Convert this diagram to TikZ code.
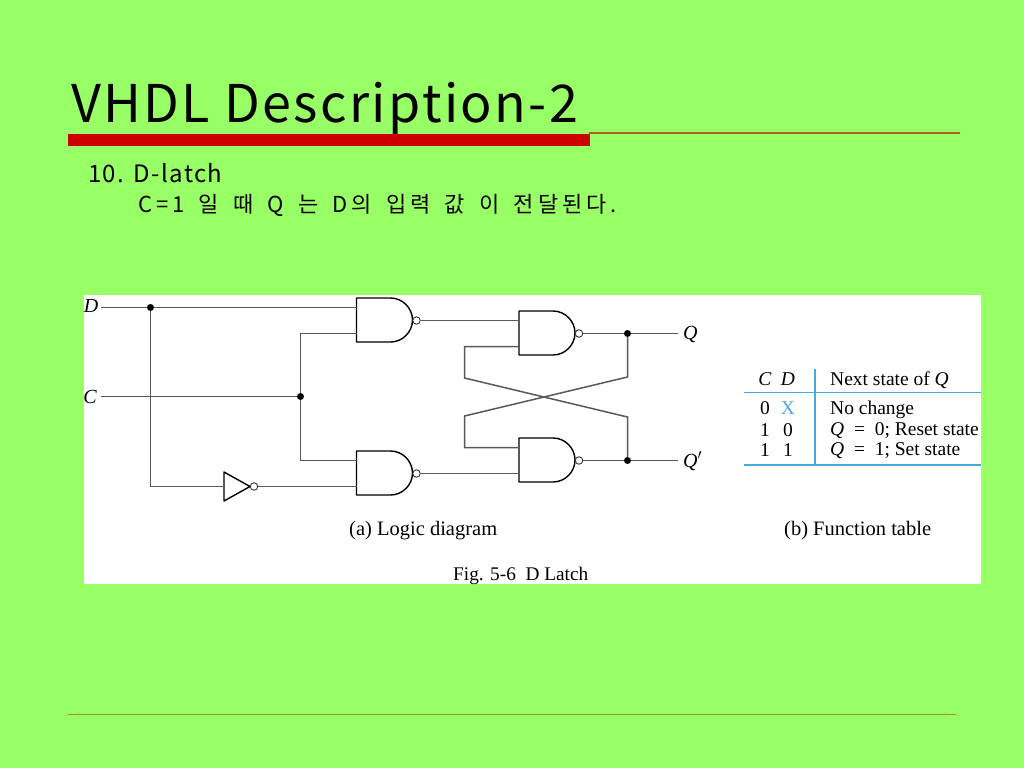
\documentclass[tikz,border=0pt]{standalone}
\usepackage{fontspec}
\setmainfont{Liberation Serif}
\newfontfamily\gulim{Noto Sans CJK KR}
\newfontfamily\gulimtitle[LetterSpace=4.6]{Noto Sans CJK KR}
\newfontfamily\gulimhead[LetterSpace=6]{Noto Sans CJK KR}
\newfontfamily\gulimsub[LetterSpace=18,WordSpace=1.6]{Noto Sans CJK KR}
\usetikzlibrary{positioning,calc}
\definecolor{slidegreen}{HTML}{99FF66}
\definecolor{barred}{HTML}{CC0000}
\definecolor{rulered}{HTML}{B06020}
\definecolor{ruleolive}{HTML}{A09030}
\definecolor{tableblue}{HTML}{4AA8E0}
\tikzstyle{wire}=[draw=black!65, line width=1.5pt]
\tikzstyle{gateline}=[draw=black, line width=1.4pt, fill=white, line join=round]
\tikzstyle{dot}=[circle, fill=black, minimum size=7pt, inner sep=0pt]
\tikzstyle{bubble}=[circle, draw=black!80, fill=white, line width=0.9pt, minimum size=7.5pt, inner sep=0pt]
\tikzstyle{slidetext}=[anchor=base west, inner sep=0pt]
\tikzstyle{label}=[anchor=base west, inner sep=0pt, font=\fontsize{19.5}{21}\selectfont]
\tikzstyle{caption}=[anchor=base west, inner sep=0pt, font=\fontsize{20.5}{22}\selectfont]
\tikzstyle{pinlabel}=[inner sep=0pt, font=\fontsize{20}{22}\selectfont\itshape]
\newcommand{\eqgap}{\hspace{0.5em}=\hspace{0.5em}}
\tikzset{
	nandgate/.pic={
		\path[gateline] (0,0)--(34,0) .. controls (46,0) and (56,10) .. (56,22)
			.. controls (56,34) and (46,44) .. (34,44)--(0,44)--cycle;
		\coordinate (-a) at (0,9.5);
		\coordinate (-b) at (0,35.5);
		\node[bubble] (-o) at (60,22.5) {};
	},
	notgate/.pic={
		\path[gateline] (0,0)--(26,14.5)--(0,29)--cycle;
		\coordinate (-a) at (0,14.5);
		\node[bubble] (-o) at (30,14.5) {};
	}
}
\begin{document}
\begin{tikzpicture}[x=1pt,y=-1pt]
		\useasboundingbox (0,0) rectangle (1024,768);
		\fill[slidegreen] (0,0) rectangle (1024,768);
		% title and rules
		\node[slidetext, font=\gulimtitle\fontsize{52}{56}\selectfont](title)at(71,122){VHDL Description-2};
		\fill[barred] (68,133.5) rectangle (589.5,146);
		\draw[rulered, line width=1.5pt] (589,133)--(960,133);
		\draw[ruleolive, line width=1pt] (68,714.5)--(956,714.5);
		\node[slidetext, font=\gulimhead\fontsize{24}{26}\selectfont](head)at(88,182){10. D-latch};
		\node[slidetext, font=\gulimsub\fontsize{22}{26}\selectfont](sub)at(138,212){C=1 일 때 Q 는 D의 입력 값 이 전달된다.};
		% figure
		\fill[white] (84,295) rectangle (981,584);
		\pic (G1) at (356.5,298) {nandgate};
		\pic (G2) at (356.5,451) {nandgate};
		\pic (G3) at (519,311) {nandgate};
		\pic (G4) at (519,438) {nandgate};
		\pic (N) at (224,472) {notgate};
		\node[pinlabel](D)at(91,306){D};
		\node[pinlabel](C)at(90,397){C};
		\node[pinlabel, anchor=west](Q)at(683,334){Q};
		\node[pinlabel, anchor=west](Q')at(683,461){Q$'$};
		\node[dot](J1)at(150.5,307.5){};
		\node[dot](J2)at(300.5,396.5){};
		\node[dot](J3)at(627.5,333.5){};
		\node[dot](J4)at(627.5,460.5){};
		\coordinate(D0)at(101,307.5);
		\coordinate(C0)at(101,396.5);
		\coordinate(Q0)at(678,333.5);
		\coordinate(Q1)at(678,460.5);
		\coordinate(X1)at(464.5,378);
		\coordinate(X2)at(627.5,417);
		\coordinate(X3)at(464.5,416);
		\coordinate(X4)at(627.5,377);
		\draw[wire](D0)--(J1)--(G1-a);
		\draw[wire](C0)--(J2);
		\draw[wire](J1)|-(N-a);
		\draw[wire](J2)|-(G1-b);
		\draw[wire](J2)|-(G2-a);
		\draw[wire](N-o)--(G2-b);
		\draw[wire](G1-o)--(G3-a);
		\draw[wire](G2-o)--(G4-b);
		\draw[wire](G3-o)--(J3)--(Q0);
		\draw[wire](G4-o)--(J4)--(Q1);
		\draw[wire](G3-b)-|(X1)--(X2)--(J4);
		\draw[wire](G4-a)-|(X3)--(X4)--(J3);
		% function table
		\draw[tableblue, line width=1.1pt] (744,392.5)--(981,392.5);
		\draw[tableblue, line width=1.1pt] (744,465)--(981,465);
		\draw[tableblue, line width=1.1pt] (815,369)--(815,465);
		\node[label, anchor=base](tc)at(765,385){\textit{C}};
		\node[label, anchor=base](td)at(788,385){\textit{D}};
		\node[label](th)at(830,385){Next state of \textit{Q}};
		\node[label, anchor=base](r1c)at(765,414){0};
		\node[label, anchor=base, text=tableblue](r1d)at(788,414){X};
		\node[label](r1)at(830,414){No change};
		\node[label, anchor=base](r2c)at(765,436){1};
		\node[label, anchor=base](r2d)at(788,436){0};
		\node[label](r2)at(830,435){\textit{Q}\eqgap 0; Reset state};
		\node[label, anchor=base](r3c)at(765,456){1};
		\node[label, anchor=base](r3d)at(788,456){1};
		\node[label](r3)at(830,455){\textit{Q}\eqgap 1; Set state};
		\node[caption](capa)at(349,535){(a) Logic diagram};
		\node[caption](capb)at(784,535){(b) Function table};
		\node[caption, font=\fontsize{19.3}{21}\selectfont](fig)at(453,580){Fig. 5-6\ \ D Latch};
\end{tikzpicture}
\end{document}
